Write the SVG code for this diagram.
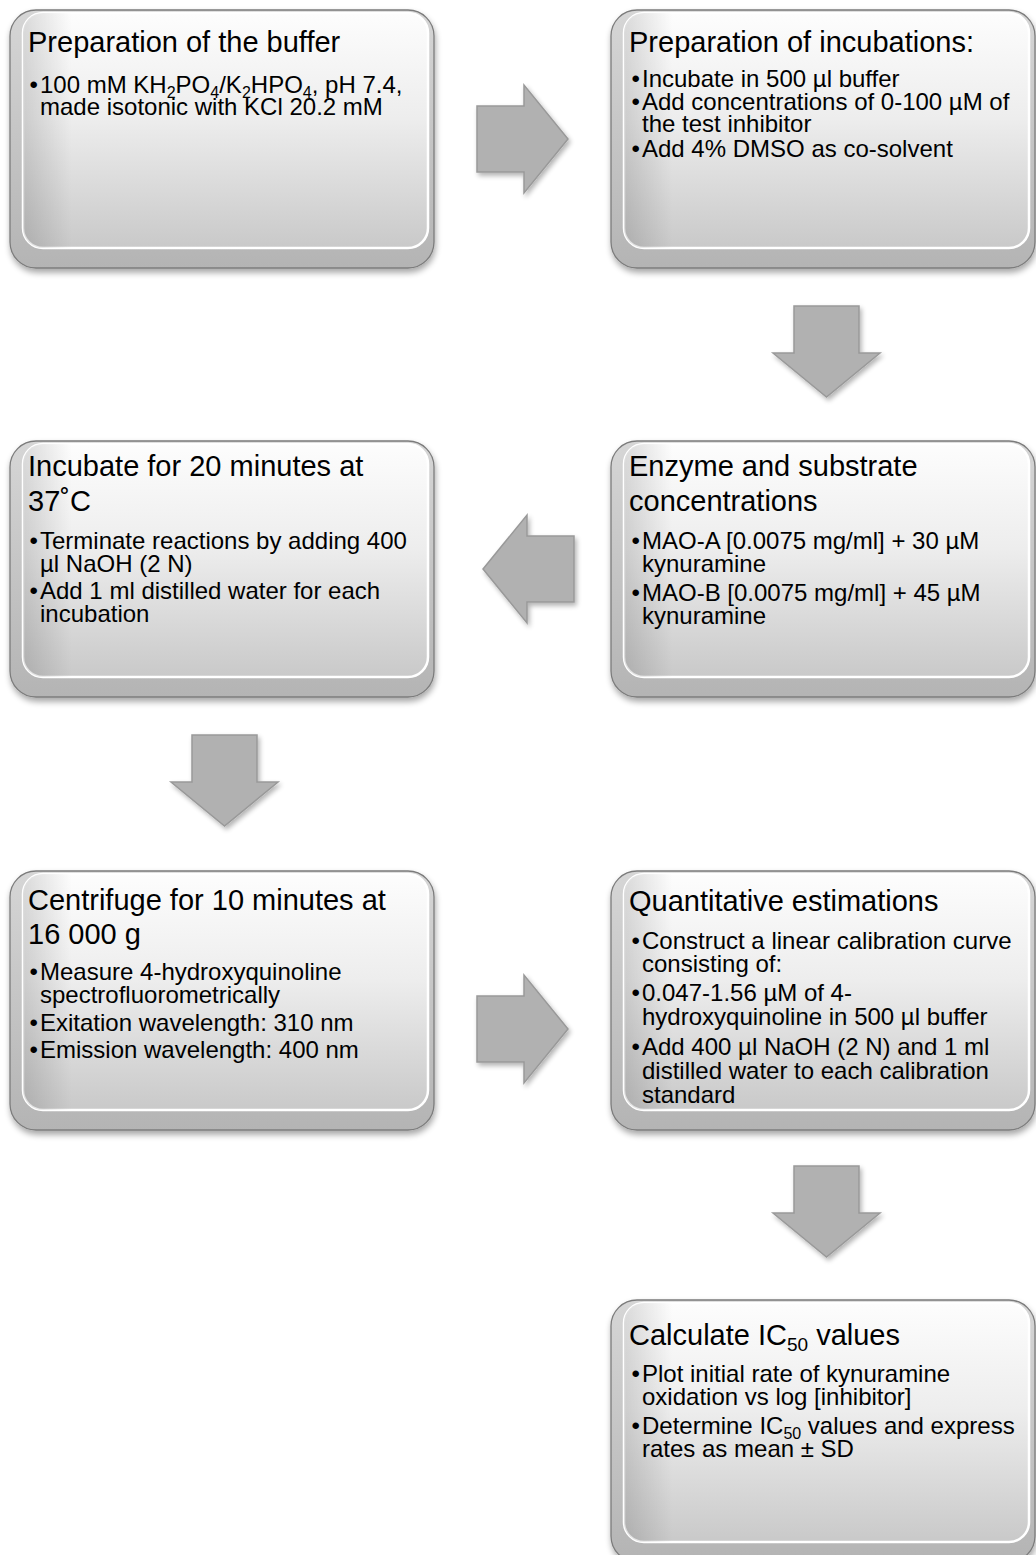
<svg xmlns="http://www.w3.org/2000/svg" width="1036" height="1555" viewBox="0 0 1036 1555">
<defs>
<linearGradient id="face" x1="0" y1="0" x2="0" y2="1">
<stop offset="0" stop-color="#fdfdfd"/>
<stop offset="0.45" stop-color="#ededed"/>
<stop offset="1" stop-color="#c9c9c9"/>
</linearGradient>
<linearGradient id="faceSide" x1="0" y1="0" x2="1" y2="0">
<stop offset="0" stop-color="#000" stop-opacity="0.14"/>
<stop offset="0.12" stop-color="#000" stop-opacity="0"/>
<stop offset="1" stop-color="#000" stop-opacity="0"/>
</linearGradient>
<linearGradient id="bevel" x1="0" y1="0" x2="0" y2="1">
<stop offset="0" stop-color="#d6d6d6"/>
<stop offset="1" stop-color="#b4b4b4"/>
</linearGradient>
<filter id="shadow" x="-10%" y="-10%" width="125%" height="130%">
<feGaussianBlur in="SourceAlpha" stdDeviation="3"/>
<feOffset dx="1" dy="4" result="b"/>
<feComponentTransfer><feFuncA type="linear" slope="0.35"/></feComponentTransfer>
<feMerge><feMergeNode/><feMergeNode in="SourceGraphic"/></feMerge>
</filter>
<filter id="ashadow" x="-20%" y="-20%" width="150%" height="150%">
<feGaussianBlur in="SourceAlpha" stdDeviation="2.5"/>
<feOffset dx="2" dy="3" result="b"/>
<feComponentTransfer><feFuncA type="linear" slope="0.3"/></feComponentTransfer>
<feMerge><feMergeNode/><feMergeNode in="SourceGraphic"/></feMerge>
</filter>
</defs>
<style>
.outer{fill:url(#bevel);stroke:#7c7c7c;stroke-width:1.3}
.face{fill:url(#face);stroke:#ffffff;stroke-width:2.5}
.side{fill:url(#faceSide)}
.t{font-family:"Liberation Sans",Arial,sans-serif;font-size:29px;fill:#000}
.b{font-family:"Liberation Sans",Arial,sans-serif;font-size:24px;fill:#000}
.arrow{fill:#b1b1b1;stroke:#999999;stroke-width:1.5;stroke-linejoin:miter}
</style>
<rect width="1036" height="1555" fill="#ffffff"/>

<g id="connectors" filter="url(#ashadow)">
<path class="arrow" d="M477,106 H524 V85 L568,139 L524,193 V172 H477 Z"/>
<path class="arrow" d="M794,306 H859 V353 H880 L826.5,397 L773,353 H794 Z"/>
<path class="arrow" d="M574,536 H527 V515 L483,569 L527,623 V602 H574 Z"/>
<path class="arrow" d="M192,735 H257 V782 H278 L224.5,826 L171,782 H192 Z"/>
<path class="arrow" d="M477,996 H524 V975 L568,1029 L524,1083 V1062 H477 Z"/>
<path class="arrow" d="M794,1166 H859 V1213 H880 L826.5,1257 L773,1213 H794 Z"/>
</g>

<g id="node1">
<g filter="url(#shadow)"><rect class="outer" x="10" y="10" width="424" height="258" rx="26"/></g>
<rect class="face" x="23" y="13" width="405" height="235" rx="20"/>
<rect class="side" x="23" y="13" width="405" height="235" rx="20"/>
<text class="t" x="28" y="52">Preparation of the buffer</text>
<text class="b" x="29.5" y="93">•</text>
<text class="b" x="40" y="93">100 mM KH<tspan dy="5" font-size="16">2</tspan><tspan dy="-5">PO</tspan><tspan dy="5" font-size="16">4</tspan><tspan dy="-5">/K</tspan><tspan dy="5" font-size="16">2</tspan><tspan dy="-5">HPO</tspan><tspan dy="5" font-size="16">4</tspan><tspan dy="-5">, pH 7.4,</tspan></text>
<text class="b" x="40" y="115">made isotonic with KCl 20.2 mM</text>
</g>

<g id="node2">
<g filter="url(#shadow)"><rect class="outer" x="611" y="10" width="424" height="258" rx="26"/></g>
<rect class="face" x="624" y="13" width="405" height="235" rx="20"/>
<rect class="side" x="624" y="13" width="405" height="235" rx="20"/>
<text class="t" x="629" y="52">Preparation of incubations:</text>
<text class="b" x="631.5" y="87">•</text>
<text class="b" x="642" y="87">Incubate in 500 µl buffer</text>
<text class="b" x="631.5" y="110">•</text>
<text class="b" x="642" y="110">Add concentrations of 0-100 µM of</text>
<text class="b" x="642" y="132">the test inhibitor</text>
<text class="b" x="631.5" y="157">•</text>
<text class="b" x="642" y="157">Add 4% DMSO as co-solvent</text>
</g>

<g id="node3">
<g filter="url(#shadow)"><rect class="outer" x="10" y="441" width="424" height="256" rx="26"/></g>
<rect class="face" x="23" y="444" width="405" height="233" rx="20"/>
<rect class="side" x="23" y="444" width="405" height="233" rx="20"/>
<text class="t" x="28" y="476">Incubate for 20 minutes at</text>
<text class="t" x="28" y="511">37˚C</text>
<text class="b" x="29.5" y="549">•</text>
<text class="b" x="40" y="549">Terminate reactions by adding 400</text>
<text class="b" x="40" y="572">µl NaOH (2 N)</text>
<text class="b" x="29.5" y="599">•</text>
<text class="b" x="40" y="599">Add 1 ml distilled water for each</text>
<text class="b" x="40" y="622">incubation</text>
</g>

<g id="node4">
<g filter="url(#shadow)"><rect class="outer" x="611" y="441" width="424" height="256" rx="26"/></g>
<rect class="face" x="624" y="444" width="405" height="233" rx="20"/>
<rect class="side" x="624" y="444" width="405" height="233" rx="20"/>
<text class="t" x="629" y="476">Enzyme and substrate</text>
<text class="t" x="629" y="511">concentrations</text>
<text class="b" x="631.5" y="549">•</text>
<text class="b" x="642" y="549">MAO-A [0.0075 mg/ml] + 30 µM</text>
<text class="b" x="642" y="572">kynuramine</text>
<text class="b" x="631.5" y="601">•</text>
<text class="b" x="642" y="601">MAO-B [0.0075 mg/ml] + 45 µM</text>
<text class="b" x="642" y="624">kynuramine</text>
</g>

<g id="node5">
<g filter="url(#shadow)"><rect class="outer" x="10" y="871" width="424" height="259" rx="26"/></g>
<rect class="face" x="23" y="874" width="405" height="236" rx="20"/>
<rect class="side" x="23" y="874" width="405" height="236" rx="20"/>
<text class="t" x="28" y="910">Centrifuge for 10 minutes at</text>
<text class="t" x="28" y="944">16 000 g</text>
<text class="b" x="29.5" y="980">•</text>
<text class="b" x="40" y="980">Measure 4-hydroxyquinoline</text>
<text class="b" x="40" y="1003">spectrofluorometrically</text>
<text class="b" x="29.5" y="1031">•</text>
<text class="b" x="40" y="1031">Exitation wavelength: 310 nm</text>
<text class="b" x="29.5" y="1058">•</text>
<text class="b" x="40" y="1058">Emission wavelength: 400 nm</text>
</g>

<g id="node6">
<g filter="url(#shadow)"><rect class="outer" x="611" y="871" width="424" height="259" rx="26"/></g>
<rect class="face" x="624" y="874" width="405" height="236" rx="20"/>
<rect class="side" x="624" y="874" width="405" height="236" rx="20"/>
<text class="t" x="629" y="911">Quantitative estimations</text>
<text class="b" x="631.5" y="949">•</text>
<text class="b" x="642" y="949">Construct a linear calibration curve</text>
<text class="b" x="642" y="972">consisting of:</text>
<text class="b" x="631.5" y="1001">•</text>
<text class="b" x="642" y="1001">0.047-1.56 µM of 4-</text>
<text class="b" x="642" y="1025">hydroxyquinoline in 500 µl buffer</text>
<text class="b" x="631.5" y="1055">•</text>
<text class="b" x="642" y="1055">Add 400 µl NaOH (2 N) and 1 ml</text>
<text class="b" x="642" y="1079">distilled water to each calibration</text>
<text class="b" x="642" y="1103">standard</text>
</g>

<g id="node7">
<g filter="url(#shadow)"><rect class="outer" x="611" y="1300" width="424" height="262" rx="26"/></g>
<rect class="face" x="624" y="1303" width="405" height="239" rx="20"/>
<rect class="side" x="624" y="1303" width="405" height="239" rx="20"/>
<text class="t" x="629" y="1345">Calculate IC<tspan dy="6" font-size="19">50</tspan><tspan dy="-6"> values</tspan></text>
<text class="b" x="631.5" y="1382">•</text>
<text class="b" x="642" y="1382">Plot initial rate of kynuramine</text>
<text class="b" x="642" y="1405">oxidation vs log [inhibitor]</text>
<text class="b" x="631.5" y="1434">•</text>
<text class="b" x="642" y="1434">Determine IC<tspan dy="5" font-size="16">50</tspan><tspan dy="-5"> values and express</tspan></text>
<text class="b" x="642" y="1457">rates as mean ± SD</text>
</g>
</svg>
